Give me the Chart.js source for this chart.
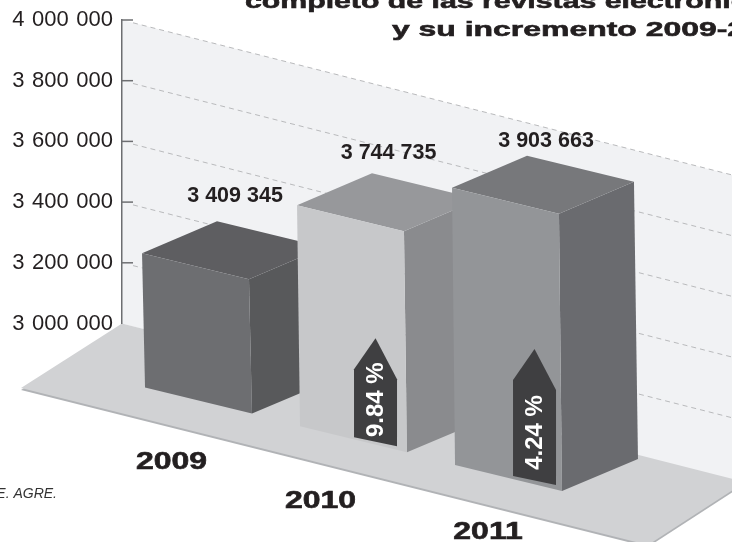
<!DOCTYPE html>
<html>
<head>
<meta charset="utf-8">
<style>
  html, body { margin: 0; padding: 0; background: #fff; overflow: hidden; }
  canvas { display: block; }
</style>
<script src="https://cdn.jsdelivr.net/npm/chart.js@4/dist/chart.umd.min.js"></script>
</head>
<body>
<canvas id="chart" width="732" height="542"></canvas>
<script>
// Data
const years = ['2009', '2010', '2011'];
const totals = [3409345, 3744735, 3903663];
const increments = [null, '9.84 %', '4.24 %'];
const titleLines = ['completo de las revistas electrónicas', 'y su incremento 2009-2011'];
const sourceNote = 'E. AGRE.';

// Face colours per bar
const frontColors = ['#6d6e71', '#c7c8ca', '#939598'];
const sideColors = ['#58595b', '#8a8b8e', '#6a6b6f'];
const topColors = ['#5e5e61', '#97989b', '#77787b'];

// Drawing of the fake perspective
const wallSlope = 0.254;
const frontSlope = 0.243;
const depth = { x: 75, y: -32 };
const flare = 3;            // bars widen a little towards the floor
const shiftX = -4;
const heightNudge = [10, -5, 3];
const labelOffset = [[18, -25], [16.5, -20], [19, -15]];
const yearOffset = [[-24, 67], [-30, 67], [-17.5, 59]];
const arrowInset = [0, 57, 61];
const arrowLength = [0, 99, 127];
const arrowTextLift = [0, 42, 48];
const FONT = '"Liberation Sans", Arial, sans-serif';

function floorY(x) {
    return 387 + 0.25 * (x - 143);
}

function poly(ctx, pts, color) {
    ctx.beginPath();
    pts.forEach(function(p, i) {
        if (i === 0) ctx.moveTo(p[0], p[1]); else ctx.lineTo(p[0], p[1]);
    });
    ctx.closePath();
    ctx.fillStyle = color;
    ctx.fill();
}

function stretchedText(ctx, text, x, y, font, scaleX, align) {
    ctx.save();
    ctx.font = font;
    ctx.fillStyle = '#231f20';
    ctx.strokeStyle = '#231f20';
    ctx.lineWidth = 0.6;
    ctx.textAlign = align;
    ctx.textBaseline = 'alphabetic';
    ctx.translate(x, y);
    ctx.scale(scaleX, 1);
    ctx.fillText(text, 0, 0);
    ctx.strokeText(text, 0, 0);
    ctx.restore();
}

const perspective = {
    id: 'perspective',
    beforeDraw(chart) {
        const ctx = chart.ctx;
        const y = chart.scales.y;
        const left = chart.chartArea.left;
        const wallAt = function(py, x) { return py + wallSlope * (x - left); };

        ctx.fillStyle = '#fff';
        ctx.fillRect(0, 0, chart.width, chart.height);

        // back wall
        poly(ctx, [[left, y.top], [732, wallAt(y.top, 732)], [732, wallAt(y.bottom, 732) + 4], [left, y.bottom]], '#f1f2f4');

        // floor, with its darker edge
        poly(ctx, [[21, 390], [648, 547], [745, 484], [122, 325]], '#b1b3b6');
        poly(ctx, [[left, y.bottom], [745, 482], [648, 545], [21, 388]], '#d1d2d4');

        ctx.wordSpacing = '1.5px';
    },
    beforeDatasetsDraw(chart) {
        const ctx = chart.ctx;
        const y = chart.scales.y;
        const left = chart.chartArea.left;
        ctx.save();
        y.ticks.forEach(function(t) {
            if (t.value === y.min) return;
            const py = y.getPixelForValue(t.value);
            ctx.strokeStyle = '#b9babc';
            ctx.lineWidth = 1;
            ctx.setLineDash([5, 4]);
            ctx.beginPath();
            ctx.moveTo(left + 11, py + wallSlope * 11);
            ctx.lineTo(732, py + wallSlope * (732 - left));
            ctx.stroke();
            ctx.setLineDash([]);
            ctx.strokeStyle = '#6d6e71';
            ctx.lineWidth = 1.5;
            ctx.beginPath();
            ctx.moveTo(left, py);
            ctx.lineTo(left + 11, py);
            ctx.stroke();
        });
        ctx.restore();
    },
    // the bars are drawn here instead of by the default flat bar element
    beforeDatasetDraw(chart, args) {
        const ctx = chart.ctx;
        const yBottom = chart.scales.y.bottom;
        args.meta.data.forEach(function(el, i) {
            const w = el.width;
            const h = yBottom - el.y + heightNudge[i];
            const xL = el.x - w / 2 + shiftX;
            const xR = xL + w;
            const botL = floorY(xL + flare);
            const topL = botL - h;
            const botR = botL + frontSlope * w;
            const topR = topL + frontSlope * w;
            const tl = [xL, topL], tr = [xR, topR];
            const bl = [xL + flare, botL], br = [xR + flare, botR];

            poly(ctx, [tr, [xR + depth.x, topR + depth.y], [xR + flare + depth.x + 1, botR + depth.y], br], sideColors[i]);
            poly(ctx, [tl, tr, [xR + depth.x, topR + depth.y], [xL + depth.x, topL + depth.y]], topColors[i]);
            poly(ctx, [tl, tr, br, bl], frontColors[i]);

            if (increments[i]) {
                const aL = xL + arrowInset[i];
                const aR = aL + 43;
                const b = botL + 11;
                const tipY = b - arrowLength[i];
                const shoulder = tipY + 31;
                poly(ctx, [[aL, b], [aL, shoulder], [(aL + aR) / 2, tipY], [aR, shoulder + 10], [aR, b + 9]], '#3f3f41');
                ctx.save();
                ctx.translate((aL + aR) / 2 + 0.5, b + 4.5 - arrowTextLift[i]);
                ctx.rotate(-Math.PI / 2);
                ctx.wordSpacing = '0px';
                ctx.font = 'bold 24px ' + FONT;
                ctx.fillStyle = '#fff';
                ctx.textAlign = 'center';
                ctx.textBaseline = 'middle';
                ctx.fillText(increments[i], 0, 0);
                ctx.restore();
            }
        });
        return false;
    },
    afterDraw(chart) {
        const ctx = chart.ctx;
        const meta = chart.getDatasetMeta(0);
        const yBottom = chart.scales.y.bottom;
        ctx.save();

        // value labels above the bars
        ctx.font = 'bold 21.5px ' + FONT;
        ctx.fillStyle = '#231f20';
        ctx.textAlign = 'center';
        ctx.textBaseline = 'middle';
        ctx.wordSpacing = '0px';
        meta.data.forEach(function(el, i) {
            const xL = el.x - el.width / 2 + shiftX;
            const topL = floorY(xL + flare) - (yBottom - el.y + heightNudge[i]);
            ctx.fillText(formatValue(totals[i]), xL + depth.x + labelOffset[i][0], topL + depth.y + labelOffset[i][1]);
        });

        // year labels sit on the floor, not under the axis
        meta.data.forEach(function(el, i) {
            const cx = el.x + shiftX + yearOffset[i][0];
            stretchedText(ctx, years[i], cx, floorY(el.x + shiftX) + yearOffset[i][1] + 2, 'bold 23px ' + FONT, 1.39, 'center');
        });

        stretchedText(ctx, titleLines[0], 245, 8, 'bold 21px ' + FONT, 1.44, 'left');
        stretchedText(ctx, titleLines[1], 392, 36, 'bold 21px ' + FONT, 1.52, 'left');

        ctx.font = 'italic 14px ' + FONT;
        ctx.fillStyle = '#333';
        ctx.textAlign = 'right';
        ctx.textBaseline = 'alphabetic';
        ctx.fillText(sourceNote, 57, 498);
        ctx.restore();
    }
};

function formatValue(v) {
    return String(v).replace(/\B(?=(\d{3})+$)/g, ' ');
}

new Chart(document.getElementById('chart'), {
    type: 'bar',
    data: {
        labels: years,
        datasets: [{
            data: totals,
            backgroundColor: frontColors,
            barPercentage: 0.69,
            categoryPercentage: 1
        }]
    },
    options: {
        responsive: false,
        animation: false,
        layout: { padding: { top: 20, bottom: 218.5, right: 145 } },
        plugins: {
            legend: { display: false },
            title: { display: false },
            tooltip: { enabled: false }
        },
        scales: {
            x: { display: false },
            y: {
                min: 3000000,
                max: 4000000,
                afterFit: function(scale) { scale.width = 122; },
                grid: { display: false },
                border: { display: true, color: '#6d6e71', width: 1.5 },
                ticks: {
                    stepSize: 200000,
                    padding: 1,
                    color: '#231f20',
                    font: { family: FONT, size: 22 },
                    callback: function(value) { return formatValue(value); }
                }
            }
        }
    },
    plugins: [perspective]
});
</script>
</body>
</html>
